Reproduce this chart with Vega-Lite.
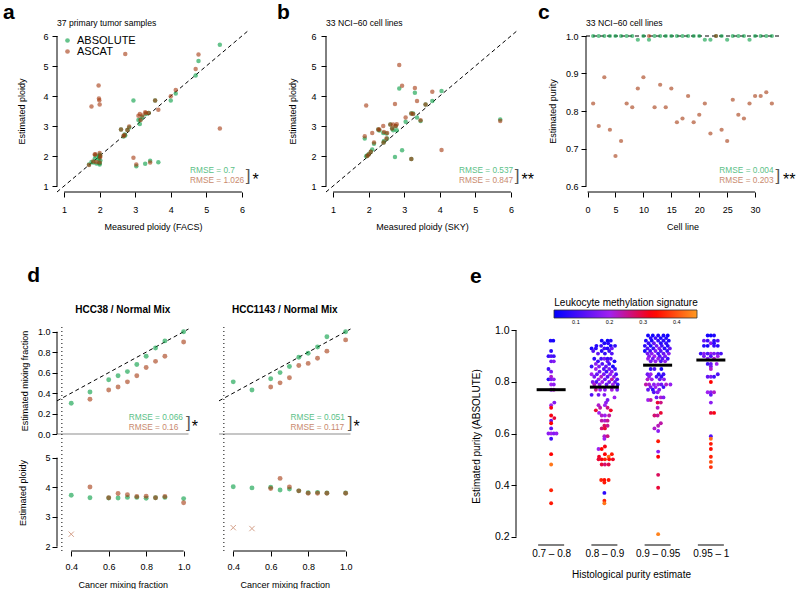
{
"$schema":"https://vega.github.io/schema/vega-lite/v6.json",
"padding":{"left":3,"top":2,"right":0,"bottom":0},
"background":"white",
"config":{"font":"Liberation Sans","view":{"stroke":null},
"axis":{"domain":false,"grid":false,"labelOverlap":false,"labelFlush":false,"labelFont":"Liberation Sans","titleFont":"Liberation Sans","labelFontSize":9,"titleFontSize":9,"titleFontWeight":"normal","labelColor":"#000","titleColor":"#000","tickColor":"#000","tickSize":5,"labelPadding":3},
"axisY":{"labelAngle":0},
"title":{"font":"Liberation Sans","color":"#000"},
"text":{"font":"Liberation Sans"}},
"datasets":{
"a":[{"m":"ABSOLUTE","x":1.70,"y":1.72},{"m":"ABSOLUTE","x":1.77,"y":1.80},{"m":"ABSOLUTE","x":1.82,"y":1.78},{"m":"ABSOLUTE","x":1.86,"y":1.90},{"m":"ABSOLUTE","x":1.88,"y":2.02},{"m":"ABSOLUTE","x":1.91,"y":1.75},{"m":"ABSOLUTE","x":1.97,"y":1.88},{"m":"ABSOLUTE","x":1.98,"y":1.95},{"m":"ABSOLUTE","x":1.99,"y":2.00},{"m":"ABSOLUTE","x":2.00,"y":1.76},{"m":"ABSOLUTE","x":2.00,"y":2.05},{"m":"ABSOLUTE","x":2.00,"y":1.72},{"m":"ABSOLUTE","x":2.02,"y":1.85},{"m":"ABSOLUTE","x":2.01,"y":2.02},{"m":"ABSOLUTE","x":2.60,"y":2.88},{"m":"ABSOLUTE","x":2.67,"y":2.65},{"m":"ABSOLUTE","x":2.70,"y":2.72},{"m":"ABSOLUTE","x":2.72,"y":2.68},{"m":"ABSOLUTE","x":2.78,"y":2.87},{"m":"ABSOLUTE","x":2.83,"y":2.95},{"m":"ABSOLUTE","x":2.95,"y":3.85},{"m":"ABSOLUTE","x":3.03,"y":1.66},{"m":"ABSOLUTE","x":3.09,"y":3.20},{"m":"ABSOLUTE","x":3.13,"y":3.07},{"m":"ABSOLUTE","x":3.15,"y":3.22},{"m":"ABSOLUTE","x":3.20,"y":3.30},{"m":"ABSOLUTE","x":3.28,"y":1.74},{"m":"ABSOLUTE","x":3.30,"y":3.40},{"m":"ABSOLUTE","x":3.38,"y":3.43},{"m":"ABSOLUTE","x":3.42,"y":1.84},{"m":"ABSOLUTE","x":3.56,"y":3.85},{"m":"ABSOLUTE","x":3.65,"y":1.79},{"m":"ABSOLUTE","x":4.00,"y":3.85},{"m":"ABSOLUTE","x":4.14,"y":4.08},{"m":"ABSOLUTE","x":4.70,"y":4.68},{"m":"ABSOLUTE","x":4.78,"y":5.17},{"m":"ABSOLUTE","x":5.38,"y":5.71},
{"m":"ASCAT","x":1.70,"y":1.70},{"m":"ASCAT","x":1.77,"y":3.65},{"m":"ASCAT","x":1.82,"y":1.82},{"m":"ASCAT","x":1.86,"y":2.05},{"m":"ASCAT","x":1.88,"y":2.06},{"m":"ASCAT","x":1.91,"y":1.80},{"m":"ASCAT","x":1.97,"y":4.35},{"m":"ASCAT","x":1.98,"y":3.92},{"m":"ASCAT","x":1.99,"y":3.86},{"m":"ASCAT","x":2.00,"y":3.72},{"m":"ASCAT","x":2.00,"y":2.10},{"m":"ASCAT","x":2.00,"y":1.78},{"m":"ASCAT","x":2.02,"y":2.00},{"m":"ASCAT","x":2.01,"y":1.95},{"m":"ASCAT","x":2.60,"y":2.88},{"m":"ASCAT","x":2.67,"y":2.67},{"m":"ASCAT","x":2.70,"y":2.70},{"m":"ASCAT","x":2.72,"y":5.40},{"m":"ASCAT","x":2.78,"y":2.87},{"m":"ASCAT","x":2.83,"y":2.98},{"m":"ASCAT","x":2.95,"y":1.94},{"m":"ASCAT","x":3.03,"y":1.72},{"m":"ASCAT","x":3.09,"y":3.34},{"m":"ASCAT","x":3.13,"y":3.40},{"m":"ASCAT","x":3.15,"y":3.20},{"m":"ASCAT","x":3.20,"y":3.35},{"m":"ASCAT","x":3.28,"y":3.46},{"m":"ASCAT","x":3.30,"y":3.43},{"m":"ASCAT","x":3.38,"y":3.43},{"m":"ASCAT","x":3.42,"y":1.78},{"m":"ASCAT","x":3.56,"y":3.85},{"m":"ASCAT","x":3.65,"y":3.54},{"m":"ASCAT","x":4.00,"y":3.99},{"m":"ASCAT","x":4.14,"y":4.20},{"m":"ASCAT","x":4.70,"y":4.90},{"m":"ASCAT","x":4.78,"y":5.38},{"m":"ASCAT","x":5.38,"y":2.92}],
"b":[{"m":"ABSOLUTE","x":1.89,"y":2.58},{"m":"ABSOLUTE","x":1.93,"y":1.99},{"m":"ABSOLUTE","x":1.96,"y":2.02},{"m":"ABSOLUTE","x":2.00,"y":2.06},{"m":"ABSOLUTE","x":2.06,"y":2.14},{"m":"ABSOLUTE","x":2.10,"y":2.22},{"m":"ABSOLUTE","x":2.15,"y":2.41},{"m":"ABSOLUTE","x":2.27,"y":2.88},{"m":"ABSOLUTE","x":2.30,"y":2.85},{"m":"ABSOLUTE","x":2.41,"y":2.77},{"m":"ABSOLUTE","x":2.42,"y":2.45},{"m":"ABSOLUTE","x":2.43,"y":2.50},{"m":"ABSOLUTE","x":2.50,"y":2.75},{"m":"ABSOLUTE","x":2.52,"y":2.58},{"m":"ABSOLUTE","x":2.61,"y":3.05},{"m":"ABSOLUTE","x":2.66,"y":2.92},{"m":"ABSOLUTE","x":2.69,"y":2.86},{"m":"ABSOLUTE","x":2.74,"y":1.97},{"m":"ABSOLUTE","x":2.76,"y":3.00},{"m":"ABSOLUTE","x":2.79,"y":2.86},{"m":"ABSOLUTE","x":2.86,"y":4.25},{"m":"ABSOLUTE","x":2.94,"y":2.19},{"m":"ABSOLUTE","x":3.04,"y":3.14},{"m":"ABSOLUTE","x":3.20,"y":3.42},{"m":"ABSOLUTE","x":3.25,"y":3.42},{"m":"ABSOLUTE","x":3.20,"y":1.90},{"m":"ABSOLUTE","x":3.30,"y":4.11},{"m":"ABSOLUTE","x":3.36,"y":3.28},{"m":"ABSOLUTE","x":3.46,"y":3.17},{"m":"ABSOLUTE","x":3.60,"y":3.72},{"m":"ABSOLUTE","x":3.79,"y":3.83},{"m":"ABSOLUTE","x":4.05,"y":4.17},{"m":"ABSOLUTE","x":5.70,"y":3.22},
{"m":"ASCAT","x":1.89,"y":2.66},{"m":"ASCAT","x":1.93,"y":3.68},{"m":"ASCAT","x":1.96,"y":2.00},{"m":"ASCAT","x":2.00,"y":2.05},{"m":"ASCAT","x":2.06,"y":2.14},{"m":"ASCAT","x":2.10,"y":2.77},{"m":"ASCAT","x":2.15,"y":2.45},{"m":"ASCAT","x":2.27,"y":2.88},{"m":"ASCAT","x":2.30,"y":2.88},{"m":"ASCAT","x":2.41,"y":3.00},{"m":"ASCAT","x":2.42,"y":2.45},{"m":"ASCAT","x":2.43,"y":2.80},{"m":"ASCAT","x":2.50,"y":2.58},{"m":"ASCAT","x":2.52,"y":2.77},{"m":"ASCAT","x":2.61,"y":3.05},{"m":"ASCAT","x":2.66,"y":2.92},{"m":"ASCAT","x":2.69,"y":3.05},{"m":"ASCAT","x":2.74,"y":3.73},{"m":"ASCAT","x":2.76,"y":3.00},{"m":"ASCAT","x":2.79,"y":3.06},{"m":"ASCAT","x":2.86,"y":5.03},{"m":"ASCAT","x":2.94,"y":4.34},{"m":"ASCAT","x":3.04,"y":3.28},{"m":"ASCAT","x":3.20,"y":3.42},{"m":"ASCAT","x":3.25,"y":3.40},{"m":"ASCAT","x":3.20,"y":1.90},{"m":"ASCAT","x":3.30,"y":4.27},{"m":"ASCAT","x":3.36,"y":3.83},{"m":"ASCAT","x":3.46,"y":3.19},{"m":"ASCAT","x":3.60,"y":3.72},{"m":"ASCAT","x":3.79,"y":4.14},{"m":"ASCAT","x":4.05,"y":2.20},{"m":"ASCAT","x":5.70,"y":3.17}],
"c":[{"m":"ABSOLUTE","x":1,"y":1},{"m":"ABSOLUTE","x":2,"y":1},{"m":"ABSOLUTE","x":3,"y":1},{"m":"ABSOLUTE","x":4,"y":1},{"m":"ABSOLUTE","x":5,"y":1},{"m":"ABSOLUTE","x":6,"y":1},{"m":"ABSOLUTE","x":7,"y":1},{"m":"ABSOLUTE","x":8,"y":1},{"m":"ABSOLUTE","x":9,"y":0.99},{"m":"ABSOLUTE","x":10,"y":1},{"m":"ABSOLUTE","x":11,"y":0.99},{"m":"ABSOLUTE","x":12,"y":1},{"m":"ABSOLUTE","x":13,"y":1},{"m":"ABSOLUTE","x":14,"y":1},{"m":"ABSOLUTE","x":15,"y":1},{"m":"ABSOLUTE","x":16,"y":1},{"m":"ABSOLUTE","x":17,"y":1},{"m":"ABSOLUTE","x":18,"y":1},{"m":"ABSOLUTE","x":19,"y":1},{"m":"ABSOLUTE","x":20,"y":1},{"m":"ABSOLUTE","x":21,"y":0.99},{"m":"ABSOLUTE","x":22,"y":0.99},{"m":"ABSOLUTE","x":23,"y":1},{"m":"ABSOLUTE","x":24,"y":1},{"m":"ABSOLUTE","x":25,"y":0.99},{"m":"ABSOLUTE","x":26,"y":1},{"m":"ABSOLUTE","x":27,"y":1},{"m":"ABSOLUTE","x":28,"y":1},{"m":"ABSOLUTE","x":29,"y":0.99},{"m":"ABSOLUTE","x":30,"y":1},{"m":"ABSOLUTE","x":31,"y":1},{"m":"ABSOLUTE","x":32,"y":1},{"m":"ABSOLUTE","x":33,"y":1},
{"m":"ASCAT","x":1,"y":0.82},{"m":"ASCAT","x":2,"y":0.76},{"m":"ASCAT","x":3,"y":0.89},{"m":"ASCAT","x":4,"y":0.75},{"m":"ASCAT","x":5,"y":0.68},{"m":"ASCAT","x":6,"y":0.72},{"m":"ASCAT","x":7,"y":0.82},{"m":"ASCAT","x":8,"y":0.81},{"m":"ASCAT","x":9,"y":0.86},{"m":"ASCAT","x":10,"y":0.89},{"m":"ASCAT","x":11,"y":1.0},{"m":"ASCAT","x":12,"y":0.81},{"m":"ASCAT","x":13,"y":0.87},{"m":"ASCAT","x":14,"y":0.81},{"m":"ASCAT","x":15,"y":0.86},{"m":"ASCAT","x":16,"y":0.77},{"m":"ASCAT","x":17,"y":0.78},{"m":"ASCAT","x":18,"y":0.84},{"m":"ASCAT","x":19,"y":0.77},{"m":"ASCAT","x":20,"y":0.79},{"m":"ASCAT","x":21,"y":0.82},{"m":"ASCAT","x":22,"y":0.74},{"m":"ASCAT","x":23,"y":1.0},{"m":"ASCAT","x":24,"y":0.75},{"m":"ASCAT","x":25,"y":0.72},{"m":"ASCAT","x":26,"y":0.83},{"m":"ASCAT","x":27,"y":0.79},{"m":"ASCAT","x":28,"y":0.78},{"m":"ASCAT","x":29,"y":0.82},{"m":"ASCAT","x":30,"y":0.84},{"m":"ASCAT","x":31,"y":0.84},{"m":"ASCAT","x":32,"y":0.85},{"m":"ASCAT","x":33,"y":0.82}],
"d":[{"cl":"HCC38","m":"ABSOLUTE","mix":0.4,"frac":0.30,"pl":3.73,"st":"ok"},{"cl":"HCC38","m":"ABSOLUTE","mix":0.5,"frac":0.41,"pl":3.65,"st":"ok"},{"cl":"HCC38","m":"ABSOLUTE","mix":0.6,"frac":0.53,"pl":3.64,"st":"ok"},{"cl":"HCC38","m":"ABSOLUTE","mix":0.65,"frac":0.57,"pl":3.64,"st":"ok"},{"cl":"HCC38","m":"ABSOLUTE","mix":0.7,"frac":0.61,"pl":3.66,"st":"ok"},{"cl":"HCC38","m":"ABSOLUTE","mix":0.75,"frac":0.68,"pl":3.66,"st":"ok"},{"cl":"HCC38","m":"ABSOLUTE","mix":0.8,"frac":0.76,"pl":3.63,"st":"ok"},{"cl":"HCC38","m":"ABSOLUTE","mix":0.85,"frac":0.84,"pl":3.65,"st":"ok"},{"cl":"HCC38","m":"ABSOLUTE","mix":0.9,"frac":0.91,"pl":3.66,"st":"ok"},{"cl":"HCC38","m":"ABSOLUTE","mix":1.0,"frac":1.0,"pl":3.62,"st":"ok"},
{"cl":"HCC38","m":"ASCAT","mix":0.4,"frac":null,"pl":2.42,"st":"failed"},{"cl":"HCC38","m":"ASCAT","mix":0.5,"frac":0.34,"pl":4.01,"st":"ok"},{"cl":"HCC38","m":"ASCAT","mix":0.6,"frac":0.43,"pl":3.65,"st":"ok"},{"cl":"HCC38","m":"ASCAT","mix":0.65,"frac":0.46,"pl":3.79,"st":"ok"},{"cl":"HCC38","m":"ASCAT","mix":0.7,"frac":0.51,"pl":3.75,"st":"ok"},{"cl":"HCC38","m":"ASCAT","mix":0.75,"frac":0.57,"pl":3.69,"st":"ok"},{"cl":"HCC38","m":"ASCAT","mix":0.8,"frac":0.65,"pl":3.70,"st":"ok"},{"cl":"HCC38","m":"ASCAT","mix":0.85,"frac":0.71,"pl":3.65,"st":"ok"},{"cl":"HCC38","m":"ASCAT","mix":0.9,"frac":0.76,"pl":3.69,"st":"ok"},{"cl":"HCC38","m":"ASCAT","mix":1.0,"frac":0.90,"pl":3.48,"st":"ok"},
{"cl":"HCC1143","m":"ABSOLUTE","mix":0.4,"frac":0.51,"pl":4.02,"st":"ok"},{"cl":"HCC1143","m":"ABSOLUTE","mix":0.5,"frac":0.43,"pl":3.98,"st":"ok"},{"cl":"HCC1143","m":"ABSOLUTE","mix":0.6,"frac":0.54,"pl":4.00,"st":"ok"},{"cl":"HCC1143","m":"ABSOLUTE","mix":0.65,"frac":0.60,"pl":3.91,"st":"ok"},{"cl":"HCC1143","m":"ABSOLUTE","mix":0.7,"frac":0.66,"pl":3.94,"st":"ok"},{"cl":"HCC1143","m":"ABSOLUTE","mix":0.75,"frac":0.75,"pl":3.88,"st":"ok"},{"cl":"HCC1143","m":"ABSOLUTE","mix":0.8,"frac":0.79,"pl":3.82,"st":"ok"},{"cl":"HCC1143","m":"ABSOLUTE","mix":0.85,"frac":0.85,"pl":3.83,"st":"ok"},{"cl":"HCC1143","m":"ABSOLUTE","mix":0.9,"frac":0.95,"pl":3.81,"st":"ok"},{"cl":"HCC1143","m":"ABSOLUTE","mix":1.0,"frac":1.0,"pl":3.81,"st":"ok"},
{"cl":"HCC1143","m":"ASCAT","mix":0.4,"frac":null,"pl":2.64,"st":"failed"},{"cl":"HCC1143","m":"ASCAT","mix":0.5,"frac":null,"pl":2.61,"st":"failed"},{"cl":"HCC1143","m":"ASCAT","mix":0.6,"frac":0.46,"pl":3.96,"st":"ok"},{"cl":"HCC1143","m":"ASCAT","mix":0.65,"frac":0.50,"pl":4.30,"st":"ok"},{"cl":"HCC1143","m":"ASCAT","mix":0.7,"frac":0.55,"pl":4.01,"st":"ok"},{"cl":"HCC1143","m":"ASCAT","mix":0.75,"frac":0.67,"pl":3.88,"st":"ok"},{"cl":"HCC1143","m":"ASCAT","mix":0.8,"frac":0.69,"pl":3.80,"st":"ok"},{"cl":"HCC1143","m":"ASCAT","mix":0.85,"frac":0.74,"pl":3.80,"st":"ok"},{"cl":"HCC1143","m":"ASCAT","mix":0.9,"frac":0.81,"pl":3.80,"st":"ok"},{"cl":"HCC1143","m":"ASCAT","mix":1.0,"frac":0.92,"pl":3.80,"st":"ok"}],
"eg":[{"g":1,"median":0.77},{"g":2,"median":0.78},{"g":3,"median":0.865},{"g":4,"median":0.885}],
"e":[{"x":0.99,"y":0.96,"c":0.07},{"x":1.04,"y":0.96,"c":0.06},{"x":1.0,"y":0.92,"c":0.08},{"x":0.95,"y":0.90,"c":0.09},{"x":1.0,"y":0.90,"c":0.12},{"x":1.05,"y":0.90,"c":0.10},{"x":1.0,"y":0.88,"c":0.15},{"x":1.05,"y":0.88,"c":0.17},{"x":0.95,"y":0.85,"c":0.10},{"x":1.0,"y":0.84,"c":0.16},{"x":1.0,"y":0.82,"c":0.22},{"x":0.95,"y":0.81,"c":0.08},{"x":1.0,"y":0.81,"c":0.16},{"x":1.05,"y":0.81,"c":0.18},{"x":1.0,"y":0.79,"c":0.20},{"x":1.05,"y":0.79,"c":0.18},{"x":1.0,"y":0.77,"c":0.17},{"x":1.05,"y":0.77,"c":0.22},{"x":1.06,"y":0.72,"c":0.17},{"x":1.0,"y":0.71,"c":0.20},{"x":1.0,"y":0.70,"c":0.32},{"x":1.0,"y":0.67,"c":0.32},{"x":1.06,"y":0.66,"c":0.30},{"x":1.0,"y":0.65,"c":0.14},{"x":1.0,"y":0.64,"c":0.33},{"x":1.0,"y":0.62,"c":0.13},{"x":0.95,"y":0.60,"c":0.18},{"x":1.0,"y":0.60,"c":0.20},{"x":1.05,"y":0.60,"c":0.17},{"x":1.1,"y":0.60,"c":0.19},{"x":1.0,"y":0.58,"c":0.10},{"x":1.0,"y":0.52,"c":0.33},{"x":1.0,"y":0.48,"c":0.43},{"x":1.0,"y":0.38,"c":0.36},{"x":1.0,"y":0.33,"c":0.35},
{"x":1.95,"y":0.96,"c":0.06},{"x":2.06,"y":0.96,"c":0.05},{"x":2.12,"y":0.96,"c":0.07},{"x":2.0,"y":0.95,"c":0.06},{"x":2.07,"y":0.95,"c":0.08},{"x":1.85,"y":0.94,"c":0.07},{"x":1.94,"y":0.94,"c":0.1},{"x":2.12,"y":0.94,"c":0.06},{"x":2.2,"y":0.94,"c":0.09},{"x":1.76,"y":0.93,"c":0.06},{"x":1.84,"y":0.93,"c":0.08},{"x":2.0,"y":0.93,"c":0.1},{"x":2.06,"y":0.93,"c":0.07},{"x":2.14,"y":0.93,"c":0.15},{"x":1.79,"y":0.92,"c":0.12},{"x":1.95,"y":0.92,"c":0.08},{"x":2.09,"y":0.92,"c":0.1},{"x":1.88,"y":0.91,"c":0.14},{"x":2.01,"y":0.91,"c":0.09},{"x":2.14,"y":0.91,"c":0.12},{"x":1.81,"y":0.89,"c":0.08},{"x":1.94,"y":0.89,"c":0.1},{"x":2.0,"y":0.89,"c":0.16},{"x":2.06,"y":0.89,"c":0.09},{"x":2.12,"y":0.89,"c":0.12},{"x":1.88,"y":0.88,"c":0.1},{"x":2.06,"y":0.88,"c":0.14},{"x":2.19,"y":0.88,"c":0.07},{"x":1.84,"y":0.87,"c":0.18},{"x":1.96,"y":0.87,"c":0.12},{"x":2.09,"y":0.87,"c":0.1},{"x":1.76,"y":0.86,"c":0.1},{"x":1.9,"y":0.86,"c":0.17},{"x":2.03,"y":0.86,"c":0.14},{"x":2.16,"y":0.86,"c":0.06},{"x":1.84,"y":0.85,"c":0.2},{"x":1.99,"y":0.85,"c":0.12},{"x":2.09,"y":0.85,"c":0.16},{"x":2.2,"y":0.85,"c":0.09},{"x":1.91,"y":0.84,"c":0.15},{"x":2.04,"y":0.84,"c":0.1},{"x":2.14,"y":0.84,"c":0.18},{"x":1.76,"y":0.83,"c":0.2},{"x":1.86,"y":0.83,"c":0.14},{"x":1.99,"y":0.83,"c":0.16},{"x":2.11,"y":0.83,"c":0.19},{"x":2.22,"y":0.83,"c":0.11},{"x":1.81,"y":0.82,"c":0.16},{"x":1.94,"y":0.82,"c":0.22},{"x":2.06,"y":0.82,"c":0.13},{"x":2.18,"y":0.82,"c":0.18},{"x":1.89,"y":0.81,"c":0.2},{"x":2.01,"y":0.81,"c":0.15},{"x":2.14,"y":0.81,"c":0.24},{"x":2.24,"y":0.81,"c":0.12},{"x":1.78,"y":0.80,"c":0.17},{"x":1.85,"y":0.80,"c":0.12},{"x":1.96,"y":0.80,"c":0.2},{"x":2.09,"y":0.80,"c":0.16},{"x":2.2,"y":0.80,"c":0.14},{"x":1.81,"y":0.79,"c":0.22},{"x":1.91,"y":0.79,"c":0.19},{"x":2.04,"y":0.79,"c":0.14},{"x":2.16,"y":0.79,"c":0.2},{"x":2.25,"y":0.79,"c":0.1},{"x":1.84,"y":0.77,"c":0.25},{"x":1.92,"y":0.77,"c":0.2},{"x":2.01,"y":0.77,"c":0.18},{"x":2.14,"y":0.77,"c":0.21},{"x":2.24,"y":0.77,"c":0.16},{"x":1.76,"y":0.75,"c":0.12},{"x":1.89,"y":0.75,"c":0.15},{"x":2.0,"y":0.75,"c":0.17},{"x":2.19,"y":0.74,"c":0.2},{"x":2.06,"y":0.73,"c":0.16},{"x":2.03,"y":0.72,"c":0.18},{"x":1.89,"y":0.71,"c":0.22},{"x":2.01,"y":0.71,"c":0.2},{"x":1.92,"y":0.70,"c":0.24},{"x":2.06,"y":0.70,"c":0.26},{"x":1.84,"y":0.69,"c":0.3},{"x":2.12,"y":0.69,"c":0.31},{"x":1.9,"y":0.68,"c":0.2},{"x":1.95,"y":0.67,"c":0.22},{"x":2.01,"y":0.67,"c":0.2},{"x":2.09,"y":0.67,"c":0.24},{"x":1.95,"y":0.65,"c":0.24},{"x":2.01,"y":0.65,"c":0.22},{"x":2.06,"y":0.65,"c":0.25},{"x":2.0,"y":0.63,"c":0.28},{"x":2.06,"y":0.63,"c":0.25},{"x":1.95,"y":0.62,"c":0.27},{"x":2.01,"y":0.62,"c":0.3},{"x":2.0,"y":0.59,"c":0.22},{"x":2.06,"y":0.59,"c":0.26},{"x":2.0,"y":0.58,"c":0.2},{"x":2.01,"y":0.55,"c":0.32},{"x":1.89,"y":0.54,"c":0.2},{"x":1.95,"y":0.54,"c":0.33},{"x":2.01,"y":0.52,"c":0.33},{"x":2.14,"y":0.52,"c":0.35},{"x":1.9,"y":0.51,"c":0.31},{"x":2.08,"y":0.51,"c":0.42},{"x":1.89,"y":0.50,"c":0.3},{"x":1.95,"y":0.50,"c":0.32},{"x":2.01,"y":0.50,"c":0.36},{"x":2.09,"y":0.50,"c":0.34},{"x":2.16,"y":0.50,"c":0.31},{"x":1.95,"y":0.48,"c":0.3},{"x":2.01,"y":0.48,"c":0.27},{"x":2.08,"y":0.48,"c":0.29},{"x":1.94,"y":0.42,"c":0.36},{"x":2.0,"y":0.42,"c":0.34},{"x":2.08,"y":0.42,"c":0.35},{"x":2.0,"y":0.41,"c":0.35},{"x":2.0,"y":0.37,"c":0.08},{"x":2.0,"y":0.34,"c":0.36},{"x":2.0,"y":0.33,"c":0.43},
{"x":2.82,"y":0.98,"c":0.06},{"x":2.91,"y":0.98,"c":0.05},{"x":3.01,"y":0.98,"c":0.07},{"x":3.11,"y":0.98,"c":0.06},{"x":3.19,"y":0.98,"c":0.05},{"x":2.87,"y":0.97,"c":0.08},{"x":2.96,"y":0.97,"c":0.1},{"x":3.06,"y":0.97,"c":0.06},{"x":3.16,"y":0.97,"c":0.07},{"x":2.78,"y":0.96,"c":0.07},{"x":2.89,"y":0.96,"c":0.06},{"x":3.01,"y":0.96,"c":0.09},{"x":3.11,"y":0.96,"c":0.08},{"x":3.21,"y":0.96,"c":0.06},{"x":2.83,"y":0.95,"c":0.1},{"x":2.93,"y":0.95,"c":0.14},{"x":3.06,"y":0.95,"c":0.07},{"x":3.16,"y":0.95,"c":0.09},{"x":2.76,"y":0.94,"c":0.08},{"x":2.87,"y":0.94,"c":0.06},{"x":2.98,"y":0.94,"c":0.15},{"x":3.08,"y":0.94,"c":0.1},{"x":3.19,"y":0.94,"c":0.07},{"x":2.81,"y":0.93,"c":0.12},{"x":2.92,"y":0.93,"c":0.09},{"x":3.03,"y":0.93,"c":0.17},{"x":3.13,"y":0.93,"c":0.08},{"x":3.23,"y":0.93,"c":0.14},{"x":2.76,"y":0.92,"c":0.06},{"x":2.86,"y":0.92,"c":0.1},{"x":2.96,"y":0.92,"c":0.16},{"x":3.06,"y":0.92,"c":0.12},{"x":3.18,"y":0.92,"c":0.09},{"x":2.81,"y":0.91,"c":0.15},{"x":2.89,"y":0.91,"c":0.18},{"x":3.01,"y":0.91,"c":0.1},{"x":3.11,"y":0.91,"c":0.14},{"x":3.21,"y":0.91,"c":0.17},{"x":2.84,"y":0.90,"c":0.17},{"x":2.94,"y":0.90,"c":0.2},{"x":3.04,"y":0.90,"c":0.12},{"x":3.14,"y":0.90,"c":0.16},{"x":2.82,"y":0.89,"c":0.2},{"x":2.91,"y":0.89,"c":0.15},{"x":3.01,"y":0.89,"c":0.18},{"x":3.09,"y":0.89,"c":0.13},{"x":3.19,"y":0.89,"c":0.1},{"x":2.87,"y":0.88,"c":0.16},{"x":2.96,"y":0.88,"c":0.19},{"x":3.06,"y":0.88,"c":0.12},{"x":3.14,"y":0.88,"c":0.18},{"x":2.87,"y":0.85,"c":0.09},{"x":2.94,"y":0.85,"c":0.12},{"x":3.07,"y":0.85,"c":0.06},{"x":2.81,"y":0.83,"c":0.15},{"x":2.87,"y":0.83,"c":0.2},{"x":3.02,"y":0.83,"c":0.08},{"x":3.11,"y":0.83,"c":0.1},{"x":2.84,"y":0.82,"c":0.17},{"x":2.98,"y":0.82,"c":0.12},{"x":3.07,"y":0.82,"c":0.09},{"x":2.81,"y":0.81,"c":0.22},{"x":2.89,"y":0.81,"c":0.2},{"x":3.04,"y":0.81,"c":0.14},{"x":3.12,"y":0.81,"c":0.18},{"x":2.78,"y":0.79,"c":0.24},{"x":2.84,"y":0.79,"c":0.22},{"x":2.93,"y":0.79,"c":0.18},{"x":3.01,"y":0.79,"c":0.2},{"x":3.07,"y":0.79,"c":0.15},{"x":3.16,"y":0.79,"c":0.22},{"x":3.24,"y":0.79,"c":0.19},{"x":2.87,"y":0.78,"c":0.16},{"x":2.96,"y":0.78,"c":0.2},{"x":3.11,"y":0.78,"c":0.1},{"x":2.82,"y":0.77,"c":0.14},{"x":2.91,"y":0.77,"c":0.08},{"x":3.03,"y":0.77,"c":0.16},{"x":2.93,"y":0.76,"c":0.12},{"x":3.0,"y":0.76,"c":0.18},{"x":2.98,"y":0.74,"c":0.15},{"x":3.06,"y":0.74,"c":0.22},{"x":3.11,"y":0.74,"c":0.17},{"x":2.82,"y":0.73,"c":0.2},{"x":2.87,"y":0.73,"c":0.24},{"x":3.0,"y":0.72,"c":0.3},{"x":3.06,"y":0.72,"c":0.26},{"x":3.0,"y":0.70,"c":0.22},{"x":3.06,"y":0.68,"c":0.3},{"x":2.94,"y":0.67,"c":0.27},{"x":3.0,"y":0.67,"c":0.25},{"x":3.06,"y":0.64,"c":0.24},{"x":3.01,"y":0.63,"c":0.23},{"x":2.94,"y":0.62,"c":0.22},{"x":3.01,"y":0.61,"c":0.18},{"x":3.01,"y":0.57,"c":0.35},{"x":3.01,"y":0.53,"c":0.18},{"x":3.01,"y":0.51,"c":0.33},{"x":3.01,"y":0.44,"c":0.28},{"x":3.01,"y":0.39,"c":0.3},{"x":3.01,"y":0.21,"c":0.44},
{"x":3.94,"y":0.98,"c":0.06},{"x":4.0,"y":0.98,"c":0.05},{"x":4.06,"y":0.98,"c":0.07},{"x":3.87,"y":0.96,"c":0.14},{"x":3.94,"y":0.96,"c":0.1},{"x":4.06,"y":0.96,"c":0.08},{"x":4.13,"y":0.96,"c":0.12},{"x":4.0,"y":0.95,"c":0.18},{"x":4.06,"y":0.95,"c":0.08},{"x":3.87,"y":0.94,"c":0.07},{"x":3.94,"y":0.94,"c":0.06},{"x":4.06,"y":0.94,"c":0.09},{"x":4.13,"y":0.94,"c":0.08},{"x":3.81,"y":0.91,"c":0.1},{"x":3.87,"y":0.91,"c":0.18},{"x":3.94,"y":0.91,"c":0.12},{"x":4.0,"y":0.91,"c":0.2},{"x":4.06,"y":0.91,"c":0.16},{"x":4.13,"y":0.91,"c":0.14},{"x":4.19,"y":0.91,"c":0.11},{"x":3.87,"y":0.90,"c":0.16},{"x":4.0,"y":0.90,"c":0.12},{"x":4.13,"y":0.90,"c":0.2},{"x":3.94,"y":0.89,"c":0.18},{"x":4.06,"y":0.89,"c":0.22},{"x":3.94,"y":0.87,"c":0.1},{"x":4.0,"y":0.87,"c":0.14},{"x":4.11,"y":0.87,"c":0.2},{"x":4.0,"y":0.86,"c":0.16},{"x":4.0,"y":0.85,"c":0.22},{"x":4.13,"y":0.83,"c":0.12},{"x":3.94,"y":0.82,"c":0.14},{"x":4.0,"y":0.82,"c":0.16},{"x":4.06,"y":0.82,"c":0.1},{"x":4.0,"y":0.80,"c":0.33},{"x":3.94,"y":0.76,"c":0.2},{"x":4.0,"y":0.76,"c":0.18},{"x":4.06,"y":0.76,"c":0.22},{"x":4.0,"y":0.75,"c":0.14},{"x":4.0,"y":0.72,"c":0.18},{"x":4.0,"y":0.68,"c":0.3},{"x":4.06,"y":0.68,"c":0.32},{"x":4.0,"y":0.59,"c":0.12},{"x":4.0,"y":0.58,"c":0.42},{"x":4.0,"y":0.56,"c":0.35},{"x":4.0,"y":0.54,"c":0.34},{"x":4.0,"y":0.51,"c":0.36},{"x":4.0,"y":0.49,"c":0.4},{"x":4.0,"y":0.47,"c":0.37}]
},
"resolve":{"scale":{"color":"independent","fill":"independent"},"legend":{"color":"independent","fill":"independent"}},
"spacing":33,
"vconcat":[
{"spacing":18,"resolve":{"scale":{"color":"independent","fill":"independent"},"legend":{"color":"independent","fill":"independent"}},
"hconcat":[
{"width":192,"height":162,
"title":{"text":"a","anchor":"start","frame":"group","dx":-54,"offset":-4,"fontSize":21,"fontWeight":"bold"},
"layer":[
{"data":{"values":[{}]},"mark":{"type":"rule","color":"#000"},"encoding":{"x":{"datum":0.8},"y":{"datum":1},"y2":{"datum":6}}},
{"data":{"values":[{}]},"mark":{"type":"rule","color":"#000"},"encoding":{"x":{"datum":1},"x2":{"datum":6},"y":{"datum":0.8}}},
{"data":{"values":[{}]},"mark":{"type":"rule","color":"#000","strokeDash":[4,3]},"encoding":{"x":{"datum":0.8},"y":{"datum":0.8},"x2":{"datum":6.2},"y2":{"datum":6.2}}},
{"data":{"name":"a"},"mark":{"type":"circle","size":20,"opacity":0.6},"encoding":{
"x":{"field":"x","type":"quantitative","scale":{"domain":[0.8,6.2],"nice":false,"zero":false},"axis":{"values":[1,2,3,4,5,6],"format":"d","tickCount":20,"labelOverlap":false,"title":"Measured ploidy (FACS)","labelPadding":8,"titlePadding":8}},
"y":{"field":"y","type":"quantitative","scale":{"domain":[0.8,6.2],"nice":false,"zero":false},"axis":{"values":[1,2,3,4,5,6],"format":"d","tickCount":20,"labelOverlap":false,"title":"Estimated ploidy","labelPadding":4,"titlePadding":16}},
"color":{"field":"m","type":"nominal","scale":{"domain":["ABSOLUTE","ASCAT"],"range":["#009b3f","#a3370d"]},"legend":{"orient":"top-left","title":null,"symbolType":"circle","symbolSize":22,"symbolOpacity":0.6,"labelFontSize":11,"labelFont":"Liberation Sans","offset":5,"padding":0,"rowPadding":-2,"labelOffset":4}}}},
{"data":{"values":[{}]},"mark":{"type":"text","text":"37 primary tumor samples","align":"left","baseline":"bottom","dy":-2,"fontSize":8.6},"encoding":{"x":{"datum":0.8},"y":{"datum":6.2}}},
{"data":{"values":[{}]},"mark":{"type":"text","text":"RMSE = 0.7","align":"left","baseline":"middle","fontSize":8.3,"color":"#5cbf87"},"encoding":{"x":{"datum":4.54},"y":{"datum":1.5}}},
{"data":{"values":[{}]},"mark":{"type":"text","text":"RMSE = 1.026","align":"left","baseline":"middle","fontSize":8.3,"color":"#c98a6e"},"encoding":{"x":{"datum":4.54},"y":{"datum":1.17}}},
{"data":{"values":[{}]},"mark":{"type":"text","text":"]","align":"right","baseline":"middle","fontSize":17,"color":"#555"},"encoding":{"x":{"datum":6.24},"y":{"datum":1.33}}},
{"data":{"values":[{}]},"mark":{"type":"text","text":"*","align":"left","baseline":"middle","dy":4,"fontSize":16,"color":"#000"},"encoding":{"x":{"datum":6.3},"y":{"datum":1.33}}}
]},
{"spacing":3,"resolve":{"scale":{"color":"independent","fill":"independent"},"legend":{"color":"independent","fill":"independent"}},
"hconcat":[
{"width":192,"height":162,
"title":{"text":"b","anchor":"start","frame":"group","dx":-49,"offset":-4,"fontSize":21,"fontWeight":"bold"},
"layer":[
{"data":{"values":[{}]},"mark":{"type":"rule","color":"#000"},"encoding":{"x":{"datum":0.8},"y":{"datum":1},"y2":{"datum":6}}},
{"data":{"values":[{}]},"mark":{"type":"rule","color":"#000"},"encoding":{"x":{"datum":1},"x2":{"datum":6},"y":{"datum":0.8}}},
{"data":{"values":[{}]},"mark":{"type":"rule","color":"#000","strokeDash":[4,3]},"encoding":{"x":{"datum":0.8},"y":{"datum":0.8},"x2":{"datum":6.2},"y2":{"datum":6.2}}},
{"data":{"name":"b"},"mark":{"type":"circle","size":20,"opacity":0.6},"encoding":{
"x":{"field":"x","type":"quantitative","scale":{"domain":[0.8,6.2],"nice":false,"zero":false},"axis":{"values":[1,2,3,4,5,6],"format":"d","tickCount":20,"labelOverlap":false,"title":"Measured ploidy (SKY)","labelPadding":8,"titlePadding":8}},
"y":{"field":"y","type":"quantitative","scale":{"domain":[0.8,6.2],"nice":false,"zero":false},"axis":{"values":[1,2,3,4,5,6],"format":"d","tickCount":20,"labelOverlap":false,"title":"Estimated ploidy","labelPadding":5,"titlePadding":13}},
"color":{"field":"m","type":"nominal","scale":{"domain":["ABSOLUTE","ASCAT"],"range":["#009b3f","#a3370d"]},"legend":null}}},
{"data":{"values":[{}]},"mark":{"type":"text","text":"33 NCI−60 cell lines","align":"left","baseline":"bottom","dy":-2,"fontSize":8.6},"encoding":{"x":{"datum":0.8},"y":{"datum":6.2}}},
{"data":{"values":[{}]},"mark":{"type":"text","text":"RMSE = 0.537","align":"left","baseline":"middle","fontSize":8.3,"color":"#5cbf87"},"encoding":{"x":{"datum":4.54},"y":{"datum":1.5}}},
{"data":{"values":[{}]},"mark":{"type":"text","text":"RMSE = 0.847","align":"left","baseline":"middle","fontSize":8.3,"color":"#c98a6e"},"encoding":{"x":{"datum":4.54},"y":{"datum":1.17}}},
{"data":{"values":[{}]},"mark":{"type":"text","text":"]","align":"right","baseline":"middle","fontSize":17,"color":"#555"},"encoding":{"x":{"datum":6.24},"y":{"datum":1.33}}},
{"data":{"values":[{}]},"mark":{"type":"text","text":"**","align":"left","baseline":"middle","dy":4,"fontSize":16,"color":"#000"},"encoding":{"x":{"datum":6.3},"y":{"datum":1.33}}}
]},
{"width":193,"height":162,
"title":{"text":"c","anchor":"start","frame":"group","dx":-48,"offset":-4,"fontSize":21,"fontWeight":"bold"},
"layer":[
{"data":{"values":[{}]},"mark":{"type":"rule","color":"#000"},"encoding":{"x":{"datum":-0.28},"y":{"datum":0.6},"y2":{"datum":1.0}}},
{"data":{"values":[{}]},"mark":{"type":"rule","color":"#000"},"encoding":{"x":{"datum":0},"x2":{"datum":30},"y":{"datum":0.584}}},
{"data":{"values":[{}]},"mark":{"type":"rule","color":"#000","strokeDash":[4,3]},"encoding":{"y":{"datum":1.0}}},
{"data":{"name":"c"},"mark":{"type":"circle","size":18,"opacity":0.6},"encoding":{
"x":{"field":"x","type":"quantitative","scale":{"domain":[-0.28,34.28],"nice":false,"zero":false},"axis":{"values":[0,5,10,15,20,25,30],"format":"d","tickCount":20,"labelOverlap":false,"title":"Cell line","labelPadding":8,"titlePadding":8}},
"y":{"field":"y","type":"quantitative","scale":{"domain":[0.584,1.016],"nice":false,"zero":false},"axis":{"values":[0.6,0.7,0.8,0.9,1.0],"tickCount":20,"labelOverlap":false,"format":".1f","title":"Estimated purity","labelPadding":3,"titlePadding":8}},
"color":{"field":"m","type":"nominal","scale":{"domain":["ABSOLUTE","ASCAT"],"range":["#009b3f","#a3370d"]},"legend":null}}},
{"data":{"values":[{}]},"mark":{"type":"text","text":"33 NCI−60 cell lines","align":"left","baseline":"bottom","dy":-2,"fontSize":8.6},"encoding":{"x":{"datum":-0.28},"y":{"datum":1.016}}},
{"data":{"values":[{}]},"mark":{"type":"text","text":"RMSE = 0.004","align":"left","baseline":"middle","fontSize":8.3,"color":"#5cbf87"},"encoding":{"x":{"datum":23.6},"y":{"datum":0.64}}},
{"data":{"values":[{}]},"mark":{"type":"text","text":"RMSE = 0.203","align":"left","baseline":"middle","fontSize":8.3,"color":"#c98a6e"},"encoding":{"x":{"datum":23.6},"y":{"datum":0.613}}},
{"data":{"values":[{}]},"mark":{"type":"text","text":"]","align":"right","baseline":"middle","fontSize":17,"color":"#555"},"encoding":{"x":{"datum":34.5},"y":{"datum":0.627}}},
{"data":{"values":[{}]},"mark":{"type":"text","text":"**","align":"left","baseline":"middle","dy":4,"fontSize":16,"color":"#000"},"encoding":{"x":{"datum":35.0},"y":{"datum":0.627}}}
]}
]}
]},
{"spacing":110,"resolve":{"scale":{"color":"independent","fill":"independent"},"legend":{"color":"independent","fill":"independent"}},
"hconcat":[
{"title":{"text":"\u200b\u00a0\u00a0\u00a0\u00a0d","anchor":"start","frame":"bounds","dx":-15,"offset":19,"fontSize":21,"fontWeight":"bold"},
"columns":2,"bounds":"flush","spacing":{"row":0,"column":30},
"resolve":{"scale":{"color":"independent","fill":"independent"},"legend":{"color":"independent","fill":"independent"}},
"concat":[
{"width":131.5,"height":107,
"title":{"text":"HCC38 / Normal Mix","fontSize":10,"fontWeight":"bold","anchor":"middle","offset":12},
"layer":[
{"data":{"values":[{}]},"mark":{"type":"rule","color":"#b3b3b3","strokeWidth":1.5},"encoding":{"y":{"datum":0}}},
{"data":{"values":[{}]},"mark":{"type":"rule","color":"#000","strokeDash":[1,3]},"encoding":{"x":{"datum":0.35,"axis":null}}},
{"data":{"values":[{}]},"mark":{"type":"rule","color":"#000"},"encoding":{"x":{"datum":0.324,"axis":null},"y":{"datum":0},"y2":{"datum":1}}},
{"data":{"values":[{}]},"mark":{"type":"rule","color":"#000","strokeDash":[4,3]},"encoding":{"x":{"datum":0.324,"axis":null},"y":{"datum":0.324},"x2":{"datum":1.026},"y2":{"datum":1.026}}},
{"data":{"name":"d"},"transform":[{"filter":"datum.cl == 'HCC38'"}],"mark":{"type":"circle","size":24,"opacity":0.6},"encoding":{
"x":{"field":"mix","type":"quantitative","scale":{"domain":[0.324,1.026],"nice":false,"zero":false},"axis":null},
"y":{"field":"frac","type":"quantitative","scale":{"domain":[0,1.046],"nice":false,"zero":false},"axis":{"values":[0,0.2,0.4,0.6,0.8,1],"tickCount":20,"labelOverlap":false,"format":".1f","title":"Estimated mixing fraction","labelPadding":2,"titlePadding":8}},
"color":{"field":"m","type":"nominal","scale":{"domain":["ABSOLUTE","ASCAT"],"range":["#009b3f","#a3370d"]},"legend":null}}},
{"data":{"values":[{}]},"mark":{"type":"text","text":"RMSE = 0.066","align":"left","baseline":"middle","fontSize":8.3,"color":"#5cbf87"},"encoding":{"x":{"datum":0.707,"axis":null},"y":{"datum":0.159}}},
{"data":{"values":[{}]},"mark":{"type":"text","text":"RMSE = 0.16","align":"left","baseline":"middle","fontSize":8.3,"color":"#c98a6e"},"encoding":{"x":{"datum":0.707,"axis":null},"y":{"datum":0.061}}},
{"data":{"values":[{}]},"mark":{"type":"text","text":"]","align":"right","baseline":"middle","fontSize":17,"color":"#555"},"encoding":{"x":{"datum":1.038,"axis":null},"y":{"datum":0.11}}},
{"data":{"values":[{}]},"mark":{"type":"text","text":"*","align":"left","baseline":"middle","dy":4,"fontSize":16,"color":"#000"},"encoding":{"x":{"datum":1.044,"axis":null},"y":{"datum":0.11}}}
]},
{"width":131.5,"height":107,
"title":{"text":"HCC1143 / Normal Mix","fontSize":10,"fontWeight":"bold","anchor":"middle","offset":12},
"layer":[
{"data":{"values":[{}]},"mark":{"type":"rule","color":"#b3b3b3","strokeWidth":1.5},"encoding":{"y":{"datum":0,"axis":null}}},
{"data":{"values":[{}]},"mark":{"type":"rule","color":"#000","strokeDash":[1,3]},"encoding":{"x":{"datum":0.35,"axis":null}}},
{"data":{"values":[{}]},"mark":{"type":"rule","color":"#000","strokeDash":[4,3]},"encoding":{"x":{"datum":0.324,"axis":null},"y":{"datum":0.324,"axis":null},"x2":{"datum":1.026},"y2":{"datum":1.026}}},
{"data":{"name":"d"},"transform":[{"filter":"datum.cl == 'HCC1143'"}],"mark":{"type":"circle","size":24,"opacity":0.6},"encoding":{
"x":{"field":"mix","type":"quantitative","scale":{"domain":[0.324,1.026],"nice":false,"zero":false},"axis":null},
"y":{"field":"frac","type":"quantitative","scale":{"domain":[0,1.046],"nice":false,"zero":false},"axis":null},
"color":{"field":"m","type":"nominal","scale":{"domain":["ABSOLUTE","ASCAT"],"range":["#009b3f","#a3370d"]},"legend":null}}},
{"data":{"values":[{}]},"mark":{"type":"text","text":"RMSE = 0.051","align":"left","baseline":"middle","fontSize":8.3,"color":"#5cbf87"},"encoding":{"x":{"datum":0.706,"axis":null},"y":{"datum":0.159,"axis":null}}},
{"data":{"values":[{}]},"mark":{"type":"text","text":"RMSE = 0.117","align":"left","baseline":"middle","fontSize":8.3,"color":"#c98a6e"},"encoding":{"x":{"datum":0.706,"axis":null},"y":{"datum":0.061,"axis":null}}},
{"data":{"values":[{}]},"mark":{"type":"text","text":"]","align":"right","baseline":"middle","fontSize":17,"color":"#555"},"encoding":{"x":{"datum":1.036,"axis":null},"y":{"datum":0.11,"axis":null}}},
{"data":{"values":[{}]},"mark":{"type":"text","text":"*","align":"left","baseline":"middle","dy":4,"fontSize":16,"color":"#000"},"encoding":{"x":{"datum":1.042,"axis":null},"y":{"datum":0.11,"axis":null}}}
]},
{"width":131.5,"height":117,
"layer":[
{"data":{"values":[{}]},"mark":{"type":"rule","color":"#000","strokeDash":[1,3]},"encoding":{"x":{"datum":0.35}}},
{"data":{"values":[{}]},"mark":{"type":"rule","color":"#000"},"encoding":{"x":{"datum":0.324},"y":{"datum":2},"y2":{"datum":5}}},
{"data":{"values":[{}]},"mark":{"type":"rule","color":"#000"},"encoding":{"x":{"datum":0.4},"x2":{"datum":1.0},"y":{"datum":1.854}}},
{"data":{"name":"d"},"transform":[{"filter":"datum.cl == 'HCC38' && datum.st == 'ok'"}],"mark":{"type":"circle","size":24,"opacity":0.6},"encoding":{
"x":{"field":"mix","type":"quantitative","scale":{"domain":[0.324,1.026],"nice":false,"zero":false},"axis":{"values":[0.4,0.6,0.8,1.0],"tickCount":20,"labelOverlap":false,"format":".1f","title":"Cancer mixing fraction","labelPadding":6,"titlePadding":9}},
"y":{"field":"pl","type":"quantitative","scale":{"domain":[1.854,5.796],"nice":false,"zero":false},"axis":{"values":[2,3,4,5],"format":"d","tickCount":20,"labelOverlap":false,"title":"Estimated ploidy","labelPadding":2,"titlePadding":17}},
"color":{"field":"m","type":"nominal","scale":{"domain":["ABSOLUTE","ASCAT"],"range":["#009b3f","#a3370d"]},"legend":null}}},
{"data":{"name":"d"},"transform":[{"filter":"datum.cl == 'HCC38' && datum.st == 'failed'"}],"mark":{"type":"point","shape":"M-1,-1L1,1M-1,1L1,-1","filled":false,"size":28,"strokeWidth":1,"color":"#c47a5a"},"encoding":{
"x":{"field":"mix","type":"quantitative"},"y":{"field":"pl","type":"quantitative"}}}
]},
{"width":131.5,"height":117,
"layer":[
{"data":{"values":[{}]},"mark":{"type":"rule","color":"#000","strokeDash":[1,3]},"encoding":{"x":{"datum":0.35}}},
{"data":{"values":[{}]},"mark":{"type":"rule","color":"#000"},"encoding":{"x":{"datum":0.4},"x2":{"datum":1.0},"y":{"datum":1.854,"axis":null}}},
{"data":{"name":"d"},"transform":[{"filter":"datum.cl == 'HCC1143' && datum.st == 'ok'"}],"mark":{"type":"circle","size":24,"opacity":0.6},"encoding":{
"x":{"field":"mix","type":"quantitative","scale":{"domain":[0.324,1.026],"nice":false,"zero":false},"axis":{"values":[0.4,0.6,0.8,1.0],"tickCount":20,"labelOverlap":false,"format":".1f","title":"Cancer mixing fraction","labelPadding":6,"titlePadding":9}},
"y":{"field":"pl","type":"quantitative","scale":{"domain":[1.854,5.796],"nice":false,"zero":false},"axis":null},
"color":{"field":"m","type":"nominal","scale":{"domain":["ABSOLUTE","ASCAT"],"range":["#009b3f","#a3370d"]},"legend":null}}},
{"data":{"name":"d"},"transform":[{"filter":"datum.cl == 'HCC1143' && datum.st == 'failed'"}],"mark":{"type":"point","shape":"M-1,-1L1,1M-1,1L1,-1","filled":false,"size":28,"strokeWidth":1,"color":"#c47a5a"},"encoding":{
"x":{"field":"mix","type":"quantitative"},"y":{"field":"pl","type":"quantitative","axis":null}}}
]}
]},
{"width":230,"height":218,
"title":{"text":"e","anchor":"start","frame":"group","dx":-46,"offset":11,"fontSize":21,"fontWeight":"bold"},
"layer":[
{"data":{"values":[{}]},"mark":{"type":"rule","color":"#000"},"encoding":{"x":{"datum":0.34},"y":{"datum":0.2},"y2":{"datum":1.0}}},
{"data":{"name":"e"},"mark":{"type":"point","filled":true,"shape":"circle","size":15,"opacity":1},"encoding":{
"x":{"field":"x","type":"quantitative","scale":{"domain":[0.34,4.66],"nice":false,"zero":false},"axis":{"values":[1,2,3,4],"tickCount":20,"labelOverlap":false,"labelExpr":"datum.value == 1 ? '0.7 – 0.8' : datum.value == 2 ? '0.8 – 0.9' : datum.value == 3 ? '0.9 – 0.95' : '0.95 – 1'","ticks":false,"labelPadding":3,"labelFontSize":10,"title":"Histological purity estimate","titleFontSize":10,"titlePadding":11}},
"y":{"field":"y","type":"quantitative","scale":{"domain":[0.168,1.013],"nice":false,"zero":false},"axis":{"values":[0.2,0.4,0.6,0.8,1.0],"tickCount":20,"labelOverlap":false,"format":".1f","labelFontSize":10.5,"labelPadding":2,"title":"Estimated purity (ABSOLUTE)","titleFontSize":10,"titlePadding":13}},
"fill":{"field":"c","type":"quantitative","scale":{"domain":[0.035,0.2,0.33,0.46],"range":["#0000ff","#a020f0","#ff0000","#ff9a20"],"interpolate":"rgb"},
"legend":{"orient":"none","legendX":38,"legendY":-29,"direction":"horizontal","gradientLength":143,"gradientThickness":8,"title":"Leukocyte methylation signature","titleFontSize":10,"titleFontWeight":"normal","titleFont":"Liberation Sans","titlePadding":2,"titleAnchor":"middle","labelFontSize":5.5,"labelFont":"Liberation Sans","values":[0.1,0.2,0.3,0.4],"labelOverlap":false,"gradientStrokeColor":"#333","gradientStrokeWidth":0.8,"labelOffset":2}}}},
{"data":{"name":"eg"},"mark":{"type":"tick","orient":"horizontal","size":29,"thickness":3,"color":"#000","opacity":1},"encoding":{"x":{"field":"g","type":"quantitative"},"y":{"field":"median","type":"quantitative"}}},
{"data":{"name":"eg"},"mark":{"type":"tick","orient":"horizontal","size":26,"thickness":1,"color":"#000","opacity":1},"encoding":{"x":{"field":"g","type":"quantitative"},"y":{"datum":0.168}}}
]}
]}
]
}
